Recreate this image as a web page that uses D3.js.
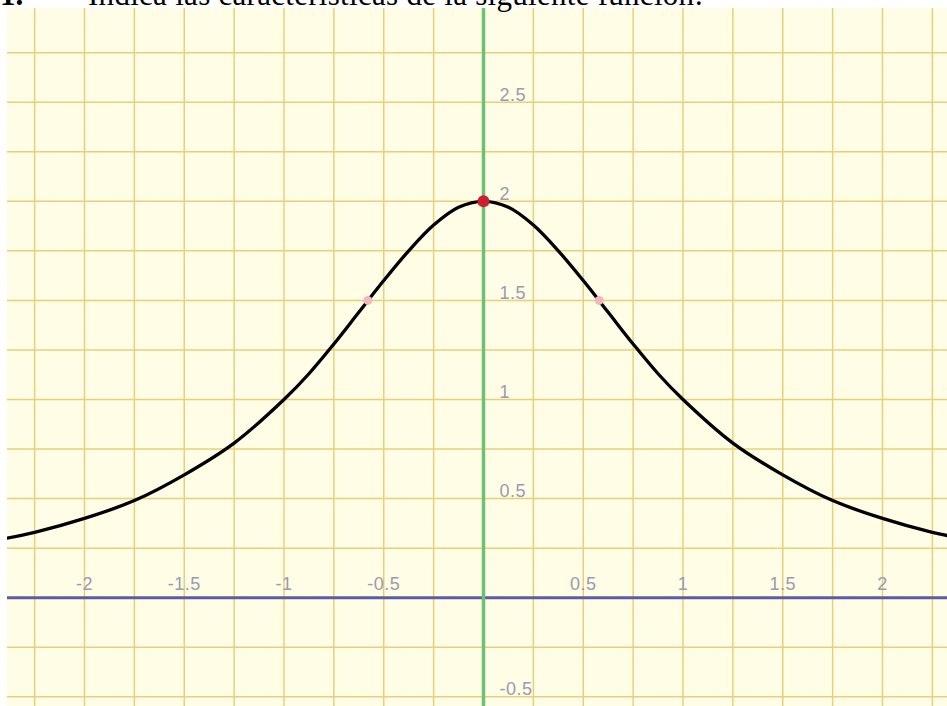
<!DOCTYPE html>
<meta charset="utf-8">
<style>
body { margin: 0; background: #fff; }
.grid line { stroke: #e8d07a; stroke-width: 1.5; }
.lbl { font: 18px "Liberation Sans", Arial, sans-serif; fill: #9a9ab2; letter-spacing: 0.5px; }
.title { font: 31px "Liberation Serif", "Times New Roman", serif; fill: #000; }
</style>
<body>
<svg width="947" height="706"></svg>
<script src="https://d3js.org/d3.v7.min.js"></script>
<script>

// tick labels on the axes
var xTicks = [-2, -1.5, -1, -0.5, 0.5, 1, 1.5, 2];
var yTicks = [-0.5, 0.5, 1, 1.5, 2, 2.5];

// curve points
var curveX = [-2.5, -2.25, -2, -1.75, -1.5, -1.25, -1, -0.875, -0.75, -0.625, -0.5, -0.375, -0.25, -0.125, 0,
              0.125, 0.25, 0.375, 0.5, 0.625, 0.75, 0.875, 1, 1.25, 1.5, 1.75, 2, 2.25, 2.5];
var curveY = [0.28, 0.33, 0.40, 0.49, 0.62, 0.78, 1.00, 1.13, 1.28, 1.44, 1.60, 1.75, 1.88, 1.97, 2.00,
              1.97, 1.88, 1.75, 1.60, 1.44, 1.28, 1.13, 1.00, 0.78, 0.62, 0.49, 0.40, 0.33, 0.28];

// marked points
var maxPoint = [[0, 2]];
var inflexPoints = [[-0.58, 1.5], [0.58, 1.5]];

var svg = d3.select("svg"),
    plot = {left: 7, top: 8, right: 947, bottom: 706};

var x = d3.scaleLinear().domain([0, 1]).range([483.5, 683]),
    y = d3.scaleLinear().domain([0, 1]).range([597.7, 399.5]);

// paper background
svg.append("rect")
    .attr("x", plot.left).attr("y", plot.top)
    .attr("width", plot.right - plot.left).attr("height", plot.bottom - plot.top)
    .attr("fill", "#fffde5");

svg.append("clipPath").attr("id", "clip")
  .append("rect")
    .attr("x", plot.left).attr("y", plot.top)
    .attr("width", plot.right - plot.left).attr("height", plot.bottom - plot.top);

var g = svg.append("g").attr("clip-path", "url(#clip)");

// grid every quarter unit
var gx = x.invert(plot.left), gx2 = x.invert(plot.right),
    gy = y.invert(plot.bottom), gy2 = y.invert(plot.top);
var grid = g.append("g").attr("class", "grid");
grid.selectAll(".v")
  .data(d3.range(Math.ceil(gx * 4) / 4, gx2, 0.25))
  .enter().append("line")
    .attr("x1", function(d) { return x(d); }).attr("x2", function(d) { return x(d); })
    .attr("y1", plot.top).attr("y2", plot.bottom);
grid.selectAll(".h")
  .data(d3.range(Math.ceil(gy * 4) / 4, gy2, 0.25))
  .enter().append("line")
    .attr("y1", function(d) { return y(d); }).attr("y2", function(d) { return y(d); })
    .attr("x1", plot.left).attr("x2", plot.right);

// axes
g.append("line")
    .attr("x1", plot.left).attr("x2", plot.right)
    .attr("y1", y(0)).attr("y2", y(0))
    .attr("stroke", "#5b5ba6").attr("stroke-width", 3);
g.append("line")
    .attr("x1", x(0)).attr("x2", x(0))
    .attr("y1", plot.top).attr("y2", plot.bottom)
    .attr("stroke", "#6cc274").attr("stroke-width", 3.5);

// tick labels
g.selectAll(".xl")
  .data(xTicks)
  .enter().append("text")
    .attr("class", "lbl")
    .attr("x", function(d) { return x(d); })
    .attr("y", y(0) - 8)
    .attr("text-anchor", "middle")
    .text(function(d) { return d; });
g.selectAll(".yl")
  .data(yTicks)
  .enter().append("text")
    .attr("class", "lbl")
    .attr("x", x(0) + 16)
    .attr("y", function(d) { return y(d) - 1.5; })
    .text(function(d) { return d; });

// the curve
var line = d3.line()
    .x(function(d, i) { return x(curveX[i]); })
    .y(function(d, i) { return y(curveY[i]); })
    .curve(d3.curveCatmullRom);
g.append("path")
    .datum(curveX)
    .attr("d", line)
    .attr("fill", "none")
    .attr("stroke", "#000")
    .attr("stroke-width", 3.3);

g.selectAll(".inf")
  .data(inflexPoints)
  .enter().append("circle")
    .attr("cx", function(d) { return x(d[0]); })
    .attr("cy", function(d) { return y(d[1]); })
    .attr("r", 4.5)
    .attr("fill", "#f3b6c0");
g.selectAll(".max")
  .data(maxPoint)
  .enter().append("circle")
    .attr("cx", function(d) { return x(d[0]); })
    .attr("cy", function(d) { return y(d[1]); })
    .attr("r", 6)
    .attr("fill", "#cc1f30");

// question text, cut off at the top
var t = svg.append("text").attr("class", "title").attr("y", 5);
t.append("tspan").attr("x", 0).attr("font-weight", "bold").text("1.");
t.append("tspan").attr("x", 88)
    .attr("textLength", 615).attr("lengthAdjust", "spacing")
    .text("Indica las características de la siguiente función:");

</script>
